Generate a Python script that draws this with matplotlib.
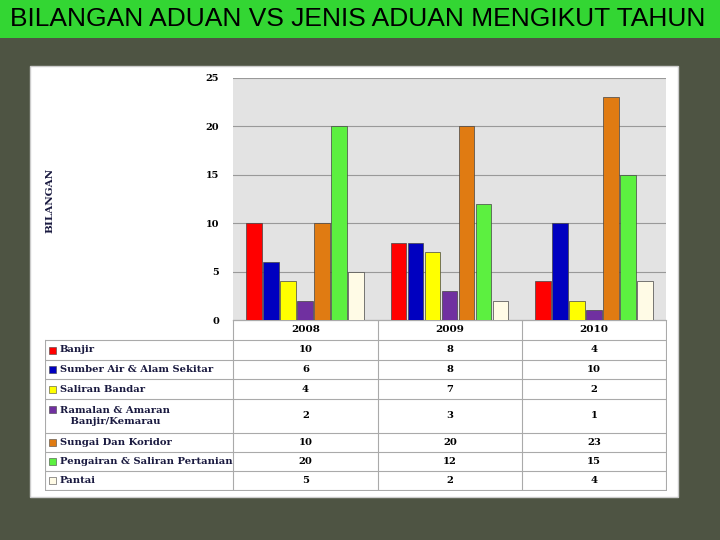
import matplotlib
matplotlib.use("Agg")
import matplotlib.pyplot as plt
import numpy as np
from matplotlib.patches import Rectangle

years = ['2008', '2009', '2010']
jenis = ['Banjir', 'Sumber Air & Alam Sekitar', 'Saliran Bandar',
         'Ramalan & Amaran\n   Banjir/Kemarau', 'Sungai Dan Koridor',
         'Pengairan & Saliran Pertanian', 'Pantai']
nilai = [
    [10, 8, 4],
    [6, 8, 10],
    [4, 7, 2],
    [2, 3, 1],
    [10, 20, 23],
    [20, 12, 15],
    [5, 2, 4],
]
warna = ['#ff0000', '#0000c0', '#ffff00', '#7030a0', '#e07b12', '#5cf040', '#fffbe6']

W, H = 720, 540
fig = plt.figure(figsize=(7.2, 5.4), dpi=100)
fig.patch.set_facecolor('#4e5443')

def box(x0, y0, x1, y1):
    return [x0 / W, 1 - y1 / H, (x1 - x0) / W, (y1 - y0) / H]

# green title bar
fig.patches.append(Rectangle((0, 1 - 38 / H), 1, 38 / H, transform=fig.transFigure,
                             facecolor='#33d633', edgecolor='none', zorder=-2))
fig.text(10 / W, 1 - 19 / H, 'BILANGAN ADUAN VS JENIS ADUAN MENGIKUT TAHUN',
         ha='left', va='center', fontsize=19, family='Liberation Sans')
# white panel
fig.patches.append(Rectangle((30 / W, 1 - 497 / H), 648 / W, 431 / H,
                             transform=fig.transFigure, facecolor='white',
                             edgecolor='#cccccc', zorder=-2))

ax = fig.add_axes(box(233, 78, 666, 320))
ax.set_facecolor('#e3e3e3')
n = len(jenis)
bw = 0.118
x = np.arange(len(years))
for i in range(n):
    ax.bar(x + (i - (n - 1) / 2) * bw, nilai[i], bw * 0.92, color=warna[i],
           edgecolor='#444444', linewidth=0.5, zorder=3)
ax.set_xlim(-0.5, 2.5)
ax.set_ylim(0, 25)
ax.set_yticks(range(0, 26, 5))
ax.yaxis.grid(True, color='#999999', linewidth=0.8, zorder=0)
ax.set_xticks([])
for s in ['top', 'right', 'left']:
    ax.spines[s].set_visible(False)
ax.spines['bottom'].set_color('#888888')
ax.tick_params(axis='y', length=0, labelsize=7, pad=10)
for t in ax.get_yticklabels():
    t.set_family('DejaVu Serif')
    t.set_fontweight('bold')
fig.text(50 / W, 1 - 200 / H, 'BILANGAN', rotation=90, ha='center', va='center',
         fontsize=7.5, fontweight='bold', family='DejaVu Serif', color='#1a1a40')

# data table
tx = fig.add_axes(box(45, 320, 667, 491))
tx.set_xlim(45, 667)
tx.set_ylim(491, 320)
tx.axis('off')
rows = [320, 340, 360, 379, 399, 433, 452, 471, 490]
cols = [45, 233, 378, 522, 666]
for r in rows:
    tx.plot([45 if r > 320 else 233, 666], [r, r], color='#aaaaaa', lw=0.8)
for c in cols:
    tx.plot([c, c], [320 if c > 45 else 340, 490], color='#aaaaaa', lw=0.8)
for j, yr in enumerate(years):
    tx.text((cols[j + 1] + cols[j + 2]) / 2, 330, yr, ha='center', va='center',
            fontsize=7.5, fontweight='bold', family='DejaVu Serif')
for i in range(n):
    yc = (rows[i + 1] + rows[i + 2]) / 2
    ys = rows[i + 1] + 10 if i == 3 else yc
    tx.add_patch(Rectangle((49, ys - 3.5), 7, 7, facecolor=warna[i],
                           edgecolor='#444444', lw=0.4))
    tx.text(60, ys if i != 3 else yc, jenis[i], ha='left', va='center',
            fontsize=7.2, fontweight='bold', family='DejaVu Serif', color='#1a1a40')
    for j in range(len(years)):
        tx.text((cols[j + 1] + cols[j + 2]) / 2, yc, str(nilai[i][j]), ha='center',
                va='center', fontsize=7.2, fontweight='bold', family='DejaVu Serif')

fig.savefig('out.png', dpi=100, facecolor=fig.get_facecolor())
